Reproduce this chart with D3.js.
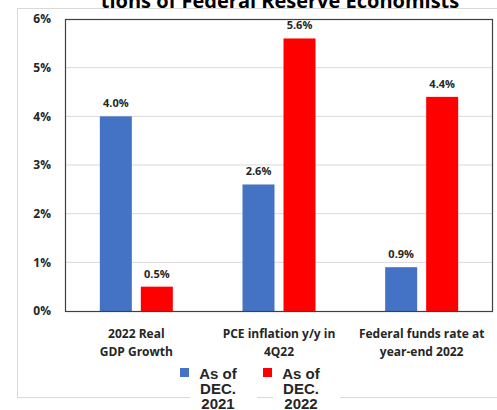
<!DOCTYPE html>
<html lang="en">
<head>
<meta charset="utf-8">
<title>Fed economists projections</title>
<script src="https://d3js.org/d3.v7.min.js"></script>
<style>
  body { margin: 0; background: #fff; }
  svg { display: block; }
  text { font-family: "Open Sans", "Liberation Sans", sans-serif; }
</style>
</head>
<body>
<script>
// chart values
var categories = [["2022 Real", "GDP Growth"], ["PCE inflation y/y in", "4Q22"], ["Federal funds rate at", "year-end 2022"]];
var seriesNames = [["As of", "DEC.", "2021"], ["As of", "DEC.", "2022"]];
var dec2021 = [4.0, 2.6, 0.9];
var dec2022 = [0.5, 5.6, 4.4];
var yTicks = [0, 1, 2, 3, 4, 5, 6];
var colors = ["#4472C4", "#FF0000"];

var w = 497, h = 410;
var m = { left: 65, top: 19, right: 4, bottom: 99 };
var pw = w - m.left - m.right, ph = h - m.top - m.bottom;

var svg = d3.select("body").append("svg").attr("width", w).attr("height", h);

// outer chart area border
svg.append("rect").attr("x", 17.5).attr("y", 8.5).attr("width", 500).attr("height", 389)
  .attr("fill", "none").attr("stroke", "#d9d9d9");

// cut-off title
svg.append("text").attr("x", 280).attr("y", 8).attr("text-anchor", "middle")
  .style("font-size", "20px").style("font-weight", "bold").attr("fill", "#000")
  .text("tions of Federal Reserve Economists");

var g = svg.append("g").attr("transform", "translate(" + m.left + "," + m.top + ")");

var x = d3.scaleBand().domain(d3.range(categories.length)).range([0, pw]);
var y = d3.scaleLinear().domain([0, 6]).range([ph, 0]);

// gridlines
g.selectAll(".grid").data(yTicks.slice(1, -1)).enter().append("line")
  .attr("x1", 0).attr("x2", pw).attr("y1", function(d) { return y(d); }).attr("y2", function(d) { return y(d); })
  .attr("stroke", "#d9d9d9");

// y axis labels
var yAxis = d3.axisLeft(y).tickValues(yTicks).tickFormat(function(d) { return d + "%"; }).tickSize(0).tickPadding(14);
var ya = g.append("g").call(yAxis);
ya.select(".domain").remove();
ya.selectAll("text").style("font-size", "12px").style("font-weight", "bold").attr("fill", "#262626")
  .style("font-family", "'Open Sans', sans-serif");

var bw = 32, gap = 9;
var series = [dec2021, dec2022];
series.forEach(function(vals, s) {
  var off = s === 0 ? -(gap / 2 + bw) : gap / 2;
  g.selectAll(".bar" + s).data(vals).enter().append("rect")
    .attr("x", function(d, i) { return x(i) + x.bandwidth() / 2 + off; })
    .attr("y", function(d) { return y(d); })
    .attr("width", bw)
    .attr("height", function(d) { return ph - y(d); })
    .attr("fill", colors[s]);
  g.selectAll(".lab" + s).data(vals).enter().append("text")
    .attr("x", function(d, i) { return x(i) + x.bandwidth() / 2 + off + bw / 2; })
    .attr("y", function(d) { return y(d) - 9; })
    .attr("text-anchor", "middle")
    .style("font-size", "11px").style("font-weight", "bold").attr("fill", "#262626")
    .text(function(d) { return d.toFixed(1) + "%"; });
});

// plot border
g.append("rect").attr("x", 0.5).attr("y", 0.5).attr("width", pw - 1).attr("height", ph)
  .attr("fill", "none").attr("stroke", "#404040").attr("stroke-width", 1.2);

// category labels
categories.forEach(function(lines, i) {
  var t = g.append("text").attr("text-anchor", "middle")
    .attr("x", x(i) + x.bandwidth() / 2).attr("y", ph + 27)
    .style("font-size", "12px").style("font-weight", "bold").attr("fill", "#262626");
  lines.forEach(function(l, k) {
    t.append("tspan").attr("x", x(i) + x.bandwidth() / 2).attr("dy", k === 0 ? 0 : 18).text(l);
  });
});

// legend
var legX = [180, 263];
seriesNames.forEach(function(lines, s) {
  var lg = svg.append("g").attr("transform", "translate(" + legX[s] + ",368)");
  lg.append("rect").attr("x", 10).attr("y", 28).attr("width", 67).attr("height", 20).attr("fill", "#fff");
  lg.append("rect").attr("x", 0).attr("y", 0).attr("width", 9).attr("height", 9).attr("fill", colors[s]);
  var t = lg.append("text").attr("text-anchor", "middle").attr("y", 11)
    .style("font-family", "'Liberation Sans', Arial, sans-serif")
    .style("font-size", "15px").style("font-weight", "bold").attr("fill", "#262626");
  lines.forEach(function(l, k) {
    t.append("tspan").attr("x", 38).attr("dy", k === 0 ? 0 : 15).text(l);
  });
});
</script>
</body>
</html>
